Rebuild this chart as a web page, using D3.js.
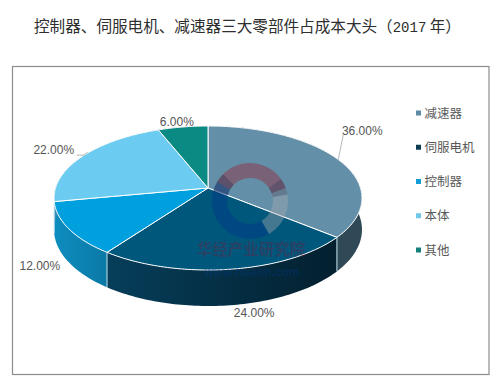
<!DOCTYPE html>
<html><head><meta charset="utf-8">
<script src="https://cdn.jsdelivr.net/npm/d3@7"></script>
<style>html,body{margin:0;padding:0;background:#fff}svg{display:block}</style></head>
<body><svg id="c" width="500" height="385"></svg>
<script>
const categories=["减速器","伺服电机","控制器","本体","其他"];
const values=[36,24,12,22,6];
const valueLabels=["36.00%","24.00%","12.00%","22.00%","6.00%"];
const topColors=["#6390a8","#00577c","#009fdd","#6ccbf1","#0a8a82"];
const wallLight=["#2f4957","#063e5a","#0d8dbf","#4aa9cf","#086b65"];
const wallDark=["#1c3240","#03202f","#0b79a6","#3a90b3","#06544f"];
const legendColors=["#5e8ba3","#0c3a50","#119ed8","#72c8ea","#13807c"];
const titleParts=["控制器、伺服电机、减速器三大零部件占成本大头（","2017"," 年）"];
const font="'Noto Sans CJK SC','Liberation Sans',sans-serif";

const svg=d3.select("#c");
const t=svg.append("text").attr("x",34).attr("y",32).attr("font-family",font)
 .attr("font-size",15.6).attr("fill","#2e2e2e").attr("xml:space","preserve").style("white-space","pre");
titleParts.forEach((p,i)=>{
 const s=t.append("tspan").text(p);
 if(i===1) s.attr("font-family","'Liberation Mono',monospace").attr("font-size",14);
});
svg.append("rect").attr("x",12.5).attr("y",66.5).attr("width",476.5).attr("height",308)
 .attr("fill","#fff").attr("stroke","#8c8c8c").attr("stroke-width",1.2);

// perspective projection of the tilted disc
const cx=208,cy=188,A=152.5,B=70.6,K=0.139,D=31;
const proj=(a,z=0,r=1)=>{const s=Math.sin(a)*r,c=Math.cos(a)*r,w=1+K*c;
 return [cx+A*s/w, cy-B*c/w+z*D/w];};
const line=d3.line();
const arcs=d3.pie().sort(null).value(d=>d)(values);
const samples=(a0,a1)=>{const n=Math.max(4,Math.ceil((a1-a0)/0.02));return d3.range(n+1).map(i=>a0+(a1-a0)*i/n);};

const defs=svg.append("defs");
arcs.forEach((d,i)=>{
 const g=defs.append("linearGradient").attr("id","w"+i).attr("gradientUnits","userSpaceOnUse")
  .attr("x1",proj(d.startAngle)[0]).attr("x2",proj(d.endAngle)[0]).attr("y1",0).attr("y2",0);
 g.append("stop").attr("offset",0).attr("stop-color",wallDark[i]);
 g.append("stop").attr("offset",1).attr("stop-color",wallLight[i]);
});
const walls=svg.append("g");
arcs.forEach((d,i)=>{
 const ts=samples(d.startAngle,d.endAngle);
 const pts=ts.map(t=>proj(t,0)).concat(ts.slice().reverse().map(t=>proj(t,1)));
 walls.append("path").attr("d",line(pts)+"Z").attr("fill",`url(#w${i})`);
});
arcs.forEach(d=>{
 if(Math.cos(d.endAngle)<0){
  walls.append("path").attr("d",line([proj(d.endAngle,0),proj(d.endAngle,1)]))
   .attr("stroke","#bfe3f0").attr("stroke-width",1).attr("fill","none");
 }
});
const tops=svg.append("g");
arcs.forEach((d,i)=>{
 const pts=[proj(0,0,0)].concat(samples(d.startAngle,d.endAngle).map(t=>proj(t,0)));
 tops.append("path").attr("d",line(pts)+"Z").attr("fill",topColors[i])
  .attr("stroke","#fff").attr("stroke-width",1).attr("stroke-linejoin","round");
});

// data labels, placed relative to each slice's mid-angle rim point
const labelOffsets=[[24,-29],[24,44],[-29,37],[-29,-6],[-6,-5]];
const leaders=[[[0,0],[5,-25]],null,null,[[-6,-1],[1,-1],[5,-4]],null];
arcs.forEach((d,i)=>{
 const m=proj((d.startAngle+d.endAngle)/2,0);
 svg.append("text").attr("x",m[0]+labelOffsets[i][0]).attr("y",m[1]+labelOffsets[i][1]+4)
  .attr("text-anchor","middle").attr("font-family","'Liberation Sans',sans-serif")
  .attr("font-size",12).attr("fill","#555").text(valueLabels[i]);
 if(leaders[i]) svg.append("path").attr("d",line(leaders[i].map(o=>[m[0]+o[0],m[1]+o[1]])))
  .attr("stroke","#a6a6a6").attr("fill","none").attr("stroke-width",0.8);
});

// legend
const ly=d3.scalePoint().domain(categories).range([113,250]);
categories.forEach((c,i)=>{
 svg.append("rect").attr("x",416).attr("y",ly(c)-2.5).attr("width",5).attr("height",5).attr("fill",legendColors[i]);
 svg.append("text").attr("x",424.5).attr("y",ly(c)+4.5).attr("font-family",font)
  .attr("font-size",12.5).attr("fill","#595959").text(c);
});

// watermark
const wm=svg.append("g");
const ring=d3.arc().innerRadius(23).outerRadius(38);
const rad=x=>x*Math.PI/180;
[[-60,70,"rgba(140,60,80,0.55)"],[70,150,"rgba(170,170,175,0.4)"],[150,300,"rgba(0,50,140,0.4)"],[-75,-45,"rgba(40,50,80,0.35)"],[55,80,"rgba(40,50,80,0.3)"]].forEach(([a,b,col])=>{
 wm.append("path").attr("transform","translate(250,201)")
  .attr("d",ring({startAngle:rad(a),endAngle:rad(b)})).attr("fill",col);
});
wm.append("text").attr("x",251).attr("y",255).attr("text-anchor","middle").attr("font-family",font)
 .attr("font-weight",700).attr("font-size",15.5).attr("fill","rgba(110,30,60,0.38)").text("华经产业研究院");
wm.append("text").attr("x",252).attr("y",276).attr("text-anchor","middle").attr("font-family","'Liberation Sans',sans-serif")
 .attr("font-weight",700).attr("font-size",12).attr("fill","rgba(0,60,150,0.3)").text("www.huaon.com");
</script></body></html>
